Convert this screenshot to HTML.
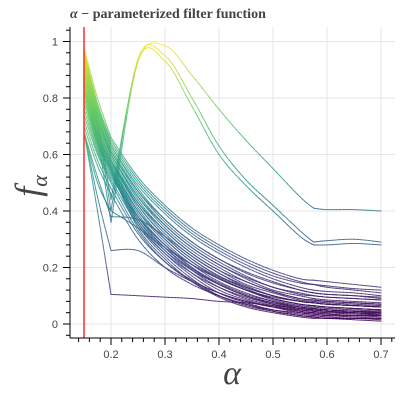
<!DOCTYPE html>
<html><head><meta charset="utf-8"><style>
body{margin:0;background:#fff;}
svg{display:block;font-family:"Liberation Sans",sans-serif;}
</style></head><body>
<svg id="chart" width="400" height="400">
<text x="70" y="18" font-family="Liberation Serif, serif" font-weight="bold" font-size="14" fill="#444"><tspan font-style="italic">α</tspan> − parameterized filter function</text>
<g id="grid"></g>
<g id="lines"></g>
<g id="axes"></g>
<text x="232" y="384" text-anchor="middle" font-family="Liberation Serif, serif" font-style="italic" font-size="34" fill="#444">α</text>
<text transform="translate(40,186) rotate(-90)" text-anchor="middle" font-family="Liberation Serif, serif" font-style="italic" font-size="36" fill="#444">f<tspan font-size="22" dy="7">α</tspan></text>
</svg>
<script>
const alphaPoints=[0.15,0.175,0.2,0.25,0.3,0.35,0.4,0.45,0.5,0.55,0.575,0.6,0.65,0.7];
const xTicks=[0.2,0.3,0.4,0.5,0.6,0.7];
const yTicks=[0,0.2,0.4,0.6,0.8,1];
const cutoffAlpha=0.15;
const curveValues=[
[.98,.80,.66,.52,.42,.34,.28,.23,.19,.16,.155,.15,.14,.13],
[.97,.78,.64,.50,.40,.32,.26,.21,.17,.145,.14,.135,.125,.12],
[.96,.77,.63,.48,.37,.29,.23,.18,.145,.12,.11,.105,.10,.09],
[.95,.76,.62,.47,.36,.28,.22,.17,.13,.11,.10,.095,.09,.085],
[.94,.75,.61,.46,.35,.27,.21,.16,.12,.10,.09,.085,.08,.075],
[.93,.74,.60,.45,.34,.26,.20,.15,.115,.09,.085,.08,.075,.07],
[.92,.73,.60,.44,.33,.25,.19,.14,.11,.085,.08,.075,.07,.065],
[.91,.72,.59,.43,.32,.24,.18,.135,.10,.08,.075,.07,.065,.06],
[.90,.71,.58,.42,.31,.23,.17,.125,.09,.07,.065,.06,.055,.05],
[.89,.70,.58,.41,.30,.22,.16,.12,.085,.065,.06,.055,.05,.045],
[.88,.69,.57,.40,.29,.21,.15,.11,.08,.06,.055,.05,.045,.04],
[.87,.68,.56,.39,.28,.20,.14,.10,.07,.05,.045,.04,.035,.03],
[.86,.67,.56,.38,.27,.19,.13,.09,.065,.045,.04,.035,.03,.025],
[.85,.66,.55,.37,.26,.18,.12,.085,.06,.04,.035,.03,.025,.02],
[.84,.66,.55,.36,.25,.17,.11,.075,.05,.035,.03,.025,.02,.02],
[.83,.65,.54,.35,.24,.16,.10,.07,.045,.03,.025,.02,.02,.015],
[.82,.64,.54,.34,.23,.15,.095,.06,.04,.025,.02,.02,.015,.01],
[.80,.63,.53,.36,.26,.19,.14,.10,.075,.06,.055,.05,.045,.04],
[.78,.62,.52,.38,.28,.21,.16,.12,.095,.08,.075,.07,.065,.06],
[.76,.61,.51,.35,.25,.18,.13,.095,.07,.055,.05,.045,.04,.035],
[.74,.60,.50,.33,.22,.15,.10,.065,.045,.03,.025,.02,.02,.02],
[.72,.58,.48,.32,.22,.155,.11,.08,.06,.05,.045,.04,.04,.04],
[.70,.56,.46,.30,.20,.14,.10,.07,.05,.04,.035,.03,.03,.03],
[.96,.78,.65,.51,.41,.33,.27,.22,.18,.15,.14,.13,.12,.11],
[.94,.76,.63,.49,.39,.31,.25,.20,.16,.13,.12,.115,.11,.10],
[.92,.74,.61,.47,.37,.29,.23,.185,.15,.12,.11,.105,.10,.095],
[.90,.72,.60,.45,.35,.27,.21,.165,.13,.105,.10,.095,.09,.085],
[.88,.70,.58,.43,.33,.25,.19,.15,.115,.09,.085,.08,.075,.07],
[.86,.68,.57,.42,.31,.23,.17,.13,.10,.08,.075,.07,.065,.06],
[.84,.67,.56,.40,.30,.22,.165,.12,.09,.07,.065,.06,.055,.05],
[.82,.65,.55,.38,.28,.20,.145,.105,.08,.06,.055,.05,.045,.045],
[.80,.64,.54,.37,.27,.195,.14,.10,.075,.055,.05,.045,.04,.035],
[.68,.50,.40,.34,.27,.21,.16,.12,.09,.07,.065,.06,.055,.05],
[.68,.52,.38,.37,.31,.24,.18,.13,.10,.08,.075,.07,.065,.06],
[.68,.45,.26,.26,.20,.15,.11,.08,.06,.045,.04,.035,.03,.03],
[.68,.40,.105,.10,.095,.09,.08,.075,.065,.055,.05,.045,.04,.03],
[.95,.72,.44,.93,.985,.88,.76,.65,.55,.45,.41,.405,.405,.40],
[.93,.70,.40,.94,.95,.80,.63,.51,.42,.33,.29,.295,.30,.29],
[.90,.66,.36,.93,.93,.77,.60,.49,.40,.31,.28,.28,.285,.28]
];
const NS='http://www.w3.org/2000/svg';
const L=70,R=395,T=27,B=338;
const xMin=0.1241,xMax=0.7259,yMin=-0.0496,yMax=1.0513;
function xs(v){return L+(v-xMin)/(xMax-xMin)*(R-L);}
function ys(v){return B-(v-yMin)/(yMax-yMin)*(B-T);}
function mk(tag,attrs,parent){const e=document.createElementNS(NS,tag);for(const k in attrs)e.setAttribute(k,attrs[k]);parent.appendChild(e);return e;}
const vir=[[68,1,84],[59,82,139],[33,145,140],[94,201,98],[253,231,37]];
function viridis(t){t=Math.max(0,Math.min(1,t))*4;const i=Math.min(3,Math.floor(t)),f=t-i;const a=vir[i],b=vir[i+1];return 'rgb('+a.map((c,k)=>Math.round(c+(b[k]-c)*f)).join(',')+')';}
const grid=document.getElementById('grid'),axes=document.getElementById('axes'),lines=document.getElementById('lines');
xTicks.forEach(v=>{const g=mk('line',{x1:xs(v),x2:xs(v),y1:T,y2:B,stroke:'#e6e6e6'},grid);

});
yTicks.forEach(v=>{const g=mk('line',{x1:L,x2:R,y1:ys(v),y2:ys(v),stroke:'#e6e6e6'},grid);

});
function seg(vals,i0,i1){const pts=[];for(let i=i0;i<i1;i++){const p0=vals[Math.max(i0,i-1)],p1=vals[i],p2=vals[i+1],p3=vals[Math.min(i1,i+2)];
const a0=alphaPoints[Math.max(i0,i-1)],a1=alphaPoints[i],a2=alphaPoints[i+1],a3=alphaPoints[Math.min(i1,i+2)];
for(let s=0;s<8;s++){const t=s/8,t2=t*t,t3=t2*t;
const cr=(q0,q1,q2,q3)=>0.5*(2*q1+(-q0+q2)*t+(2*q0-5*q1+4*q2-q3)*t2+(-q0+3*q1-3*q2+q3)*t3);
pts.push([cr(a0,a1,a2,a3),cr(p0,p1,p2,p3)]);}}
pts.push([alphaPoints[i1],vals[i1]]);return pts;}
curveValues.forEach((vals,ci)=>{
const pts=seg(vals,0,2).concat(seg(vals,2,10).slice(1),seg(vals,10,13).slice(1));
const g=mk('g',{},lines);


for(let i=0;i<pts.length-1;i++){const m=(pts[i][1]+pts[i+1][1])/2;
mk('line',{x1:xs(pts[i][0]).toFixed(2),y1:ys(pts[i][1]).toFixed(2),x2:xs(pts[i+1][0]).toFixed(2),y2:ys(pts[i+1][1]).toFixed(2),stroke:viridis(m),'stroke-width':1,'stroke-opacity':0.8,'stroke-linecap':'round'},g);}
});
const red=mk('line',{x1:xs(cutoffAlpha),x2:xs(cutoffAlpha),y1:T,y2:B,stroke:'#ff2a2a','stroke-width':1.5},lines);


mk('line',{x1:L,x2:L,y1:T,y2:B,stroke:'#000'},axes);
mk('line',{x1:L,x2:R,y1:B,y2:B,stroke:'#000'},axes);
for(let k=-1;k<=26;k++){const v=k*0.04;const y=ys(v);if(y<T||y>B)continue;const major=k%5===0;
mk('line',{x1:L-(major?7:4),x2:L,y1:y,y2:y,stroke:'#000'},axes);}
for(let k=6;k<=36;k++){const v=k*0.02;const x=xs(v);if(x<L||x>R)continue;const major=k%5===0;
mk('line',{x1:x,x2:x,y1:B,y2:B+(major?7:4),stroke:'#000'},axes);}
yTicks.forEach(v=>{const t=mk('text',{x:L-12,y:ys(v)+4,'text-anchor':'end','font-size':11,fill:'#444'},axes);t.textContent=String(v);

});
xTicks.forEach(v=>{const t=mk('text',{x:xs(v),y:B+20,'text-anchor':'middle','font-size':11,fill:'#444'},axes);t.textContent=String(v);

});
</script>
</body></html>
